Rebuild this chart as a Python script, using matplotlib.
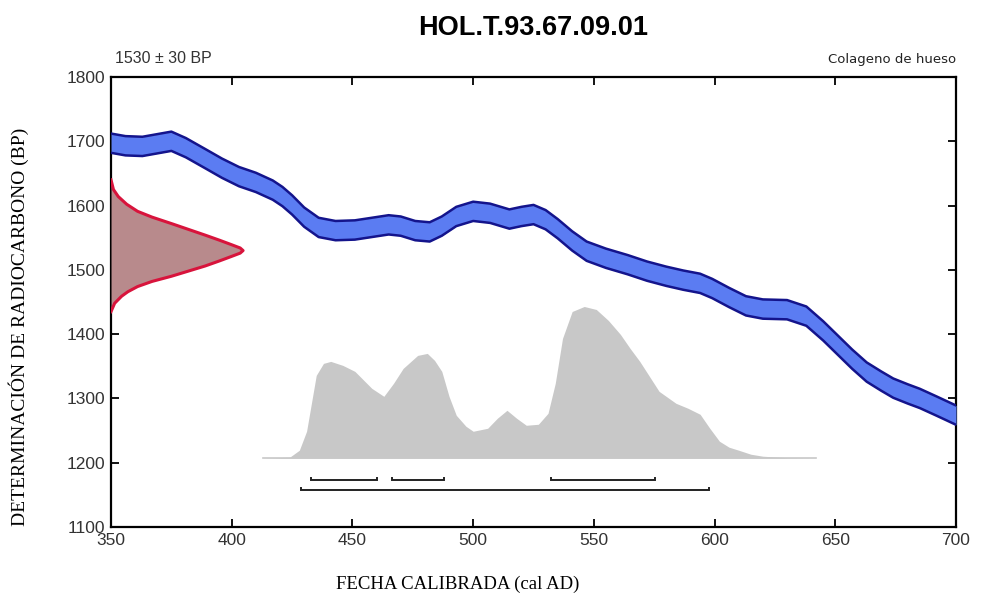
import numpy as np
import matplotlib.pyplot as plt

plt.rcParams['font.family'] = ['Liberation Sans', 'DejaVu Sans']

# Calibration curve (cal AD vs BP), centre of band
cal_years = [350, 356, 363, 369, 375, 381, 389, 396, 403, 410, 417, 421, 425,
             430, 436, 443, 451, 458, 465, 470, 476, 482, 487, 493, 500, 507,
             515, 520, 525, 530, 535, 541, 547, 555, 564, 572, 580, 587, 594,
             599, 606, 613, 620, 630, 638, 645, 651, 657, 663, 669, 674, 680,
             685, 692, 700]
cal_bp = [1697, 1693, 1692, 1696, 1700, 1690, 1673, 1658, 1645, 1636, 1624,
          1614, 1601, 1582, 1566, 1561, 1562, 1566, 1570, 1568, 1561, 1559,
          1568, 1583, 1591, 1588, 1579, 1583, 1586, 1578, 1564, 1545, 1529,
          1518, 1508, 1498, 1490, 1484, 1479, 1471, 1457, 1444, 1439, 1438,
          1428, 1405, 1383, 1361, 1341, 1327, 1316, 1307, 1300, 1288, 1274]
cal_err = 15

# Radiocarbon determination (BP) and drawn half-width in years
c14_bp = [1640, 1625, 1614, 1602, 1591, 1582, 1572, 1563, 1554, 1546, 1539,
          1534, 1530, 1526, 1521, 1514, 1506, 1498, 1490, 1482, 1474, 1466,
          1459, 1448, 1435]
c14_width = [0, 1, 3, 6.5, 11, 17, 25, 32, 39, 45, 50, 53.5, 54.7, 53.5, 50,
             45, 39, 32, 25, 17, 11, 7, 4.4, 1.5, 0]

# Calibrated probability (relative)
prob_years = [413, 424, 428, 431, 435, 438, 441, 446, 451, 458, 463, 467, 471,
              477, 481, 484, 487, 490, 493, 497, 500, 506, 510, 514, 518, 522,
              527, 531, 534, 537, 541, 546, 551, 556, 561, 565, 569, 573, 577,
              584, 589, 594, 598, 602, 606, 610, 615, 620, 630, 642]
prob = [0, 1, 8, 27, 83, 95, 97, 93, 87, 70, 62, 75, 90, 103, 105, 98, 87,
        62, 43, 32, 27, 30, 40, 48, 40, 33, 34, 45, 75, 120, 147, 152, 149,
        138, 124, 110, 97, 82, 67, 55, 50, 44, 30, 17, 11, 8, 4, 2, 0.5, 0]
prob_base = 1207
prob_height = 236

# Ranges: 68.2% and 95.4%
ranges_68 = [(432.7, 460.2), (466.2, 488.1), (532.4, 575.3)]
ranges_95 = [(428.6, 597.6)]

fig, ax = plt.subplots(figsize=(9.86, 5.99), dpi=100)
fig.subplots_adjust(left=0.1126, right=0.9696, bottom=0.1202, top=0.8715)

# calibration band
cy = np.array(cal_years)
cb = np.array(cal_bp)
ax.fill_between(cy, cb - cal_err, cb + cal_err, color='#5b7cf2', lw=0, zorder=3)
ax.plot(cy, cb + cal_err, color='#14148c', lw=1.8, zorder=4)
ax.plot(cy, cb - cal_err, color='#14148c', lw=1.8, zorder=4)

# radiocarbon distribution on the y axis
cw = 350 + np.array(c14_width)
ax.fill_betweenx(c14_bp, 350, cw, color='#b88a8c', lw=0, zorder=3)
ax.plot(cw, c14_bp, color='#d8143c', lw=2.2, zorder=4)

# calibrated distribution
p = np.array(prob) / max(prob) * prob_height
ax.fill_between(prob_years, prob_base, prob_base + p, color='#c8c8c8', lw=0, zorder=2)
ax.plot(prob_years, [prob_base] * len(prob_years), color='#c8c8c8', lw=1.2, zorder=2)

# range brackets
def bracket(x0, x1, y):
    ax.plot([x0, x0, x1, x1], [y + 3, y, y, y + 3], color='#222222', lw=1.4,
            solid_joinstyle='miter', zorder=4)

for a, b in ranges_68:
    bracket(a, b, 1173)
for a, b in ranges_95:
    bracket(a, b, 1158)

ax.set_xlim(350, 700)
ax.set_ylim(1100, 1800)
ax.set_xticks(np.arange(350, 701, 50))
ax.set_yticks(np.arange(1100, 1801, 100))
ax.tick_params(direction='in', length=6, width=1.3, top=True, right=True,
               labelsize=12.5, labelcolor='#333333', pad=4)
for s in ax.spines.values():
    s.set_linewidth(1.6)

ax.set_title('HOL.T.93.67.09.01', fontsize=19.5, fontweight='bold', pad=30)
ax.text(0.005, 1.025, '1530 \u00b1 30 BP', transform=ax.transAxes, fontsize=11.5,
        color='#333333', ha='left', va='bottom')
ax.text(1.0, 1.025, 'Colageno de hueso', transform=ax.transAxes, fontsize=9.5,
        ha='right', va='bottom', family='Liberation Sans Narrow', color='#222222')
ax.set_xlabel('FECHA CALIBRADA (cal AD)', family='Liberation Serif', fontsize=13.5)
ax.xaxis.set_label_coords(0.41, -0.108)
ax.set_ylabel('DETERMINACI\u00d3N DE RADIOCARBONO (BP)', family='Liberation Serif',
              fontsize=14)
ax.yaxis.set_label_coords(-0.097, 0.445)

plt.savefig('out.png')
